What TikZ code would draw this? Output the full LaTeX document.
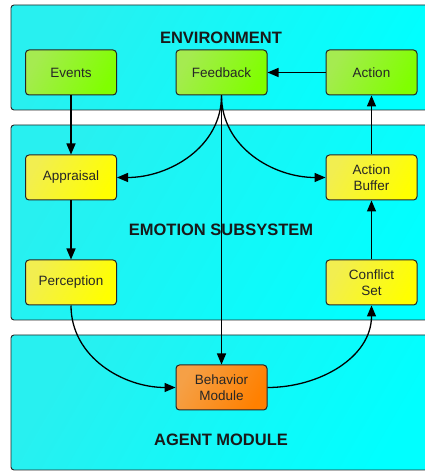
\documentclass[tikz,border=0pt]{standalone}
\usepackage{fontspec}
\setmainfont{Liberation Sans}
\usetikzlibrary{arrows.meta,positioning}
\definecolor{cyanL}{RGB}{40,240,240}
\definecolor{cyanD}{RGB}{0,255,255}
\definecolor{grnL}{RGB}{165,235,80}
\definecolor{grnD}{RGB}{128,255,0}
\definecolor{yelL}{RGB}{242,238,80}
\definecolor{yelD}{RGB}{255,255,0}
\definecolor{orL}{RGB}{245,160,70}
\definecolor{orD}{RGB}{255,128,0}
\tikzset{
  region/.style={draw=black!85, line width=0.9pt, rounded corners=3pt, shading=axis, left color=cyanL, right color=cyanD, shading angle=60},
  blk/.style={draw=black!85, line width=1pt, rounded corners=3.5pt, minimum width=91pt, minimum height=45pt, align=center, font=\fontsize{13.5}{16}\selectfont, inner sep=2pt, text=black!85},
  grnbox/.style={blk, left color=grnL, right color=grnD, shading angle=60},
  yelbox/.style={blk, left color=yelL, right color=yelD, shading angle=60},
  orbox/.style={blk, left color=orL, right color=orD, shading angle=60},
  title/.style={font=\bfseries\fontsize{16.5}{18}\selectfont, text=black!90},
  conn/.style={line width=1.3pt, draw=black},
  arr/.style={conn, -{Triangle[length=11pt,width=9pt]}}
}
\begin{document}
\begin{tikzpicture}[x=1pt,y=1pt]
\useasboundingbox (0,0) rectangle (425,471);
\begin{scope}
\clip (0,0) rectangle (425,471);
\path[region] (11,361) rectangle (445,466);
\path[region] (11,151) rectangle (445,346);
\path[region] (11,1) rectangle (445,136);
\end{scope}
\node[title] (envt) at (221,433) {ENVIRONMENT};
\node[title] (emot) at (221,241) {EMOTION SUBSYSTEM};
\node[title] (agnt) at (221,31) {AGENT MODULE};

\node[grnbox] (events) at (71,398.5) {Events};
\node[grnbox] (feedback) at (221.5,398.5) {Feedback};
\node[grnbox] (action) at (371.5,398.5) {Action};
\node[yelbox] (appraisal) at (71,293.5) {Appraisal};
\node[yelbox] (abuffer) at (371.5,293.5) {Action\\Buffer};
\node[yelbox] (perception) at (71,188.5) {Perception};
\node[yelbox] (conflict) at (371.5,188.5) {Conflict\\Set};
\node[orbox] (behavior) at (221.5,83.5) {Behavior\\Module};

\draw[arr] (action) -- (feedback);
\draw[arr] (events) -- (appraisal);
\draw[arr] (appraisal) -- (perception);
\draw[arr] (conflict) -- (abuffer);
\draw[arr] (abuffer) -- (action);
\draw[arr] (feedback) -- (behavior);
\draw[arr] (feedback.south) to[out=-90,in=0] (appraisal.east);
\draw[arr] (feedback.south) to[out=-90,in=180] (abuffer.west);
\draw[arr] (perception.south) to[out=-90,in=180] (behavior.west);
\draw[arr] (behavior.east) to[out=0,in=-90] (conflict.south);
\end{tikzpicture}
\end{document}
